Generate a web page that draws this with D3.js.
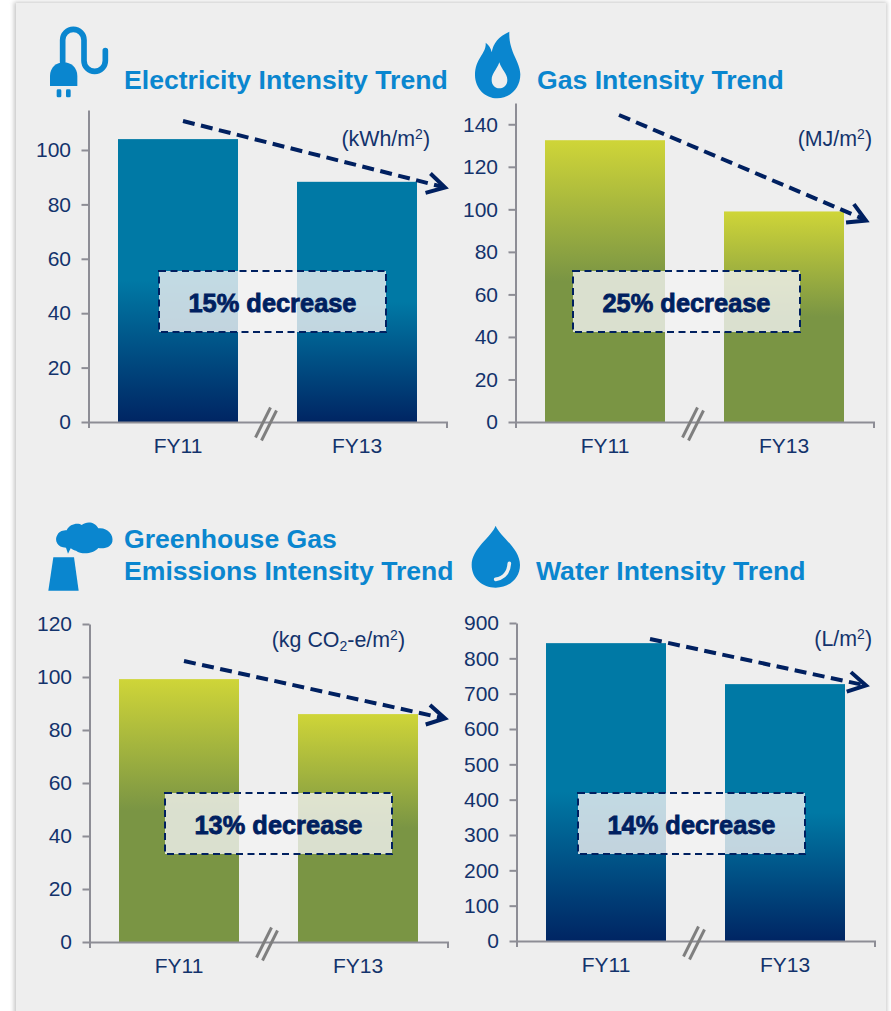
<!DOCTYPE html>
<html>
<head>
<meta charset="utf-8">
<script src="https://cdn.jsdelivr.net/npm/d3@7"></script>
<style>
  html, body { margin: 0; padding: 0; background: #fff; }
  svg { display: block; font-family: "Liberation Sans", Arial, sans-serif; }
</style>
</head>
<body>
<svg id="chart" width="891" height="1011"></svg>
<script>
// Fiscal years on every panel
const categories = ["FY11", "FY13"];

// Intensity values per fiscal year
const electricityValues = [104, 88.3];
const gasValues = [132.5, 99];
const emissionsValues = [99.2, 86];
const waterValues = [843, 727];

// Tick labels for each value axis
const electricityTicks = [0, 20, 40, 60, 80, 100];
const gasTicks = [0, 20, 40, 60, 80, 100, 120, 140];
const emissionsTicks = [0, 20, 40, 60, 80, 100, 120];
const waterTicks = [0, 100, 200, 300, 400, 500, 600, 700, 800, 900];

// Reductions quoted in the call-out boxes
const decreaseLabels = ["15% decrease", "25% decrease", "13% decrease", "14% decrease"];

const NAVY = "#002060";
const TEXT = "#13336c";
const BRIGHT = "#0a86cf";
const AXIS = "#8d8d95";
const PANEL = "#eeeeee";

const panels = [
  { values: electricityValues, ticks: electricityTicks, top: 114.7, x: 88.5, y0: 422, yTop: 110,
    ramp: "blue", title: ["Electricity Intensity Trend"], titleX: 124, titleY: 89,
    unit: [["(kWh/m"], ["2", "sup"], [")"]], unitX: 430, unitY: 146,
    arrow: [183, 121, 447, 188], box: [159, 271], label: decreaseLabels[0], icon: "plug" },
  { values: gasValues, ticks: gasTicks, top: 150, x: 515.5, y0: 422, yTop: 103,
    ramp: "green", title: ["Gas Intensity Trend"], titleX: 537, titleY: 89,
    unit: [["(MJ/m"], ["2", "sup"], [")"]], unitX: 872, unitY: 146,
    arrow: [619, 115, 868, 221], box: [573, 271], label: decreaseLabels[1], icon: "flame" },
  { values: emissionsValues, ticks: emissionsTicks, top: 120, x: 89.5, y0: 942, yTop: 624,
    ramp: "green", title: ["Greenhouse Gas", "Emissions Intensity Trend"], titleX: 124, titleY: 548,
    unit: [["(kg CO"], ["2", "sub"], ["-e/m"], ["2", "sup"], [")"]], unitX: 405, unitY: 647,
    arrow: [184, 661, 447, 719], box: [165, 793], label: decreaseLabels[2], icon: "stack" },
  { values: waterValues, ticks: waterTicks, top: 900, x: 516.5, y0: 941, yTop: 623,
    ramp: "blue", title: ["Water Intensity Trend"], titleX: 536, titleY: 580,
    unit: [["(L/m"], ["2", "sup"], [")"]], unitX: 872, unitY: 646,
    arrow: [650, 639, 868, 686], box: [578, 793], label: decreaseLabels[3], icon: "drop" }
];

const svg = d3.select("#chart");

// Fill gradients shared by the bars: each stretches over its own bar
const defs = svg.append("defs");
const ramps = {
  blue: [[0, "#0079a5"], [0.5, "#0079a5"], [1, "#002563"]],
  green: [[0, "#cfd538"], [0.5, "#7a9544"], [1, "#7a9544"]]
};
Object.entries(ramps).forEach(([name, stops]) => {
  const g = defs.append("linearGradient").attr("id", "ramp-" + name)
    .attr("x1", 0).attr("y1", 0).attr("x2", 0).attr("y2", 1);
  stops.forEach(([o, c]) => g.append("stop").attr("offset", o).attr("stop-color", c));
});
const blur = defs.append("filter").attr("id", "panel-shadow")
  .attr("x", "-2%").attr("y", "-2%").attr("width", "104%").attr("height", "104%");
blur.append("feGaussianBlur").attr("stdDeviation", 2);

// Panel backdrop, running off the bottom edge
svg.append("rect").attr("x", 14).attr("y", 2).attr("width", 873).attr("height", 1030)
  .attr("fill", "#c6c6c6").attr("filter", "url(#panel-shadow)");
svg.append("rect").attr("x", 16).attr("y", 3).attr("width", 870).attr("height", 1030)
  .attr("fill", PANEL);

// Pictograms, drawn in a 3x grid and scaled down
const icons = {
  plug: { at: [40, 20], draw(g) {
    g.append("path").attr("fill", "none").attr("stroke", BRIGHT).attr("stroke-width", 17)
      .attr("stroke-linecap", "round")
      .attr("d", "M68,125 L68,60 A32,32 0 0 1 132,60 L132,122 A32,32 0 0 0 196,122 L196,92");
    g.append("path").attr("fill", BRIGHT)
      .attr("d", "M30,198 L30,168 C30,142 50,127 71,127 C92,127 112,142 112,168 L112,198 Z");
    g.append("rect").attr("x", 50).attr("y", 208).attr("width", 14).attr("height", 24).attr("rx", 4).attr("fill", BRIGHT);
    g.append("rect").attr("x", 78).attr("y", 208).attr("width", 14).attr("height", 24).attr("rx", 4).attr("fill", BRIGHT);
  } },
  flame: { at: [465, 25], draw(g) {
    g.append("path").attr("fill", BRIGHT).attr("fill-rule", "evenodd")
      .attr("d", "M133,20 C100,35 85,55 80,82 C78,70 72,60 62,53 C65,85 30,100 30,150 C30,190 60,220 97,220 C135,220 166,190 166,148 C166,110 130,80 133,20 Z " +
                 "M103,112 C95,135 80,145 80,165 C80,180 90,190 103,190 C117,190 127,180 127,165 C127,145 110,135 103,112 Z");
  } },
  stack: { at: [40, 515], draw(g) {
    g.append("path").attr("fill", BRIGHT)
      .attr("d", "M40,127 L102,127 L116,227 L25,227 Z");
    g.append("path").attr("fill", BRIGHT)
      .attr("d", "M78,98 C52,98 42,75 52,60 C58,48 70,46 80,46 C88,26 115,22 125,30 C140,18 165,20 175,40 C200,36 222,58 217,80 C212,98 190,102 175,99 C160,117 125,120 108,107 C100,106 95,102 92,100 L84,116 Z");
  } },
  drop: { at: [465, 520], draw(g) {
    g.append("path").attr("fill", BRIGHT)
      .attr("d", "M92,17 C80,50 20,85 20,135 C20,175 52,203 92,203 C132,203 165,175 165,135 C165,85 105,50 92,17 Z");
    g.append("path").attr("fill", "none").attr("stroke", PANEL).attr("stroke-width", 11).attr("stroke-linecap", "round")
      .attr("d", "M92,178 Q130,172 133,130");
  } }
};

panels.forEach(p => {
  const y = d3.scaleLinear().domain([0, p.top]).range([p.y0, p.yTop]);
  const x = d3.scaleBand().domain(categories).range([p.x, p.x + 358])
    .paddingInner(59 / 179).paddingOuter(59 / 358);

  const icon = icons[p.icon];
  icon.draw(svg.append("g").attr("transform", `translate(${icon.at[0]},${icon.at[1]}) scale(${1 / 3})`));

  // Title, one line per entry
  p.title.forEach((line, i) => svg.append("text")
    .attr("x", p.titleX).attr("y", p.titleY + i * 32)
    .attr("fill", BRIGHT).attr("font-size", 26.6).attr("font-weight", "bold").text(line));

  // Bars
  svg.append("g").selectAll("rect").data(p.values).join("rect")
    .attr("x", (d, i) => x(categories[i])).attr("width", x.bandwidth())
    .attr("y", d => y(d)).attr("height", d => y(0) - y(d))
    .attr("fill", `url(#ramp-${p.ramp})`);

  // Axes
  const yAxis = svg.append("g").attr("transform", `translate(${p.x},0)`)
    .call(d3.axisLeft(y).tickValues(p.ticks).tickSize(7).tickSizeOuter(0).tickPadding(10.5));
  const xAxis = svg.append("g").attr("transform", `translate(0,${p.y0})`)
    .call(d3.axisBottom(x).tickSizeInner(0).tickSizeOuter(6).tickPadding(16.5));
  [yAxis, xAxis].forEach(a => {
    a.attr("font-family", null).attr("font-size", 21);
    a.selectAll("path,line").attr("stroke", AXIS).attr("stroke-width", 2);
    a.selectAll("text").attr("fill", TEXT).attr("font-size", 21);
  });

  // Break mark between the two fiscal years
  const mid = p.x + 179 - 1.5;
  const breaks = svg.append("g").attr("stroke", "#7f7f7f").attr("stroke-width", 3);
  [-3, 3].forEach(off => breaks.append("line")
    .attr("x1", mid + off - 7.5).attr("y1", p.y0 + 17 + off * 0.5)
    .attr("x2", mid + off + 7.5).attr("y2", p.y0 - 13 + off * 0.5));

  // Unit label, with raised and lowered runs
  const unit = svg.append("text").attr("x", p.unitX).attr("y", p.unitY).attr("text-anchor", "end")
    .attr("fill", TEXT).attr("font-size", 21.4);
  let shift = 0;
  p.unit.forEach(([t, kind]) => {
    const target = kind === "sup" ? -7 : kind === "sub" ? 4 : 0;
    unit.append("tspan").attr("dy", target - shift)
      .attr("font-size", kind ? 14 : 21.4).text(t);
    shift = target;
  });

  // Dashed trend arrow
  const [ax, ay, bx, by] = p.arrow;
  const theta = Math.atan2(by - ay, bx - ax);
  const backX = bx - 4 * Math.cos(theta), backY = by - 4 * Math.sin(theta);
  const arrow = svg.append("g").attr("fill", "none").attr("stroke", NAVY).attr("stroke-width", 4);
  arrow.append("line").attr("x1", ax).attr("y1", ay).attr("x2", backX).attr("y2", backY)
    .attr("stroke-dasharray", "12,6.5");
  const wing = a => [bx - 22 * Math.cos(theta + a), by - 22 * Math.sin(theta + a)];
  arrow.append("path").attr("stroke-linejoin", "miter")
    .attr("d", d3.line()([wing(0.47), [bx - 2, by - 0.5], wing(-0.47)]));

  // Call-out box
  const [bxX, bxY] = p.box;
  svg.append("rect").attr("x", bxX).attr("y", bxY).attr("width", 227).attr("height", 61)
    .attr("fill", "#f2f2f2").attr("fill-opacity", 0.8)
    .attr("stroke", NAVY).attr("stroke-width", 2).attr("stroke-dasharray", "7,4.5");
  svg.append("text").attr("x", bxX + 113.5).attr("y", bxY + 41).attr("text-anchor", "middle")
    .attr("fill", NAVY).attr("stroke", NAVY).attr("stroke-width", 0.8)
    .attr("font-size", 25.4).attr("font-weight", "bold").text(p.label);
});
</script>
</body>
</html>
